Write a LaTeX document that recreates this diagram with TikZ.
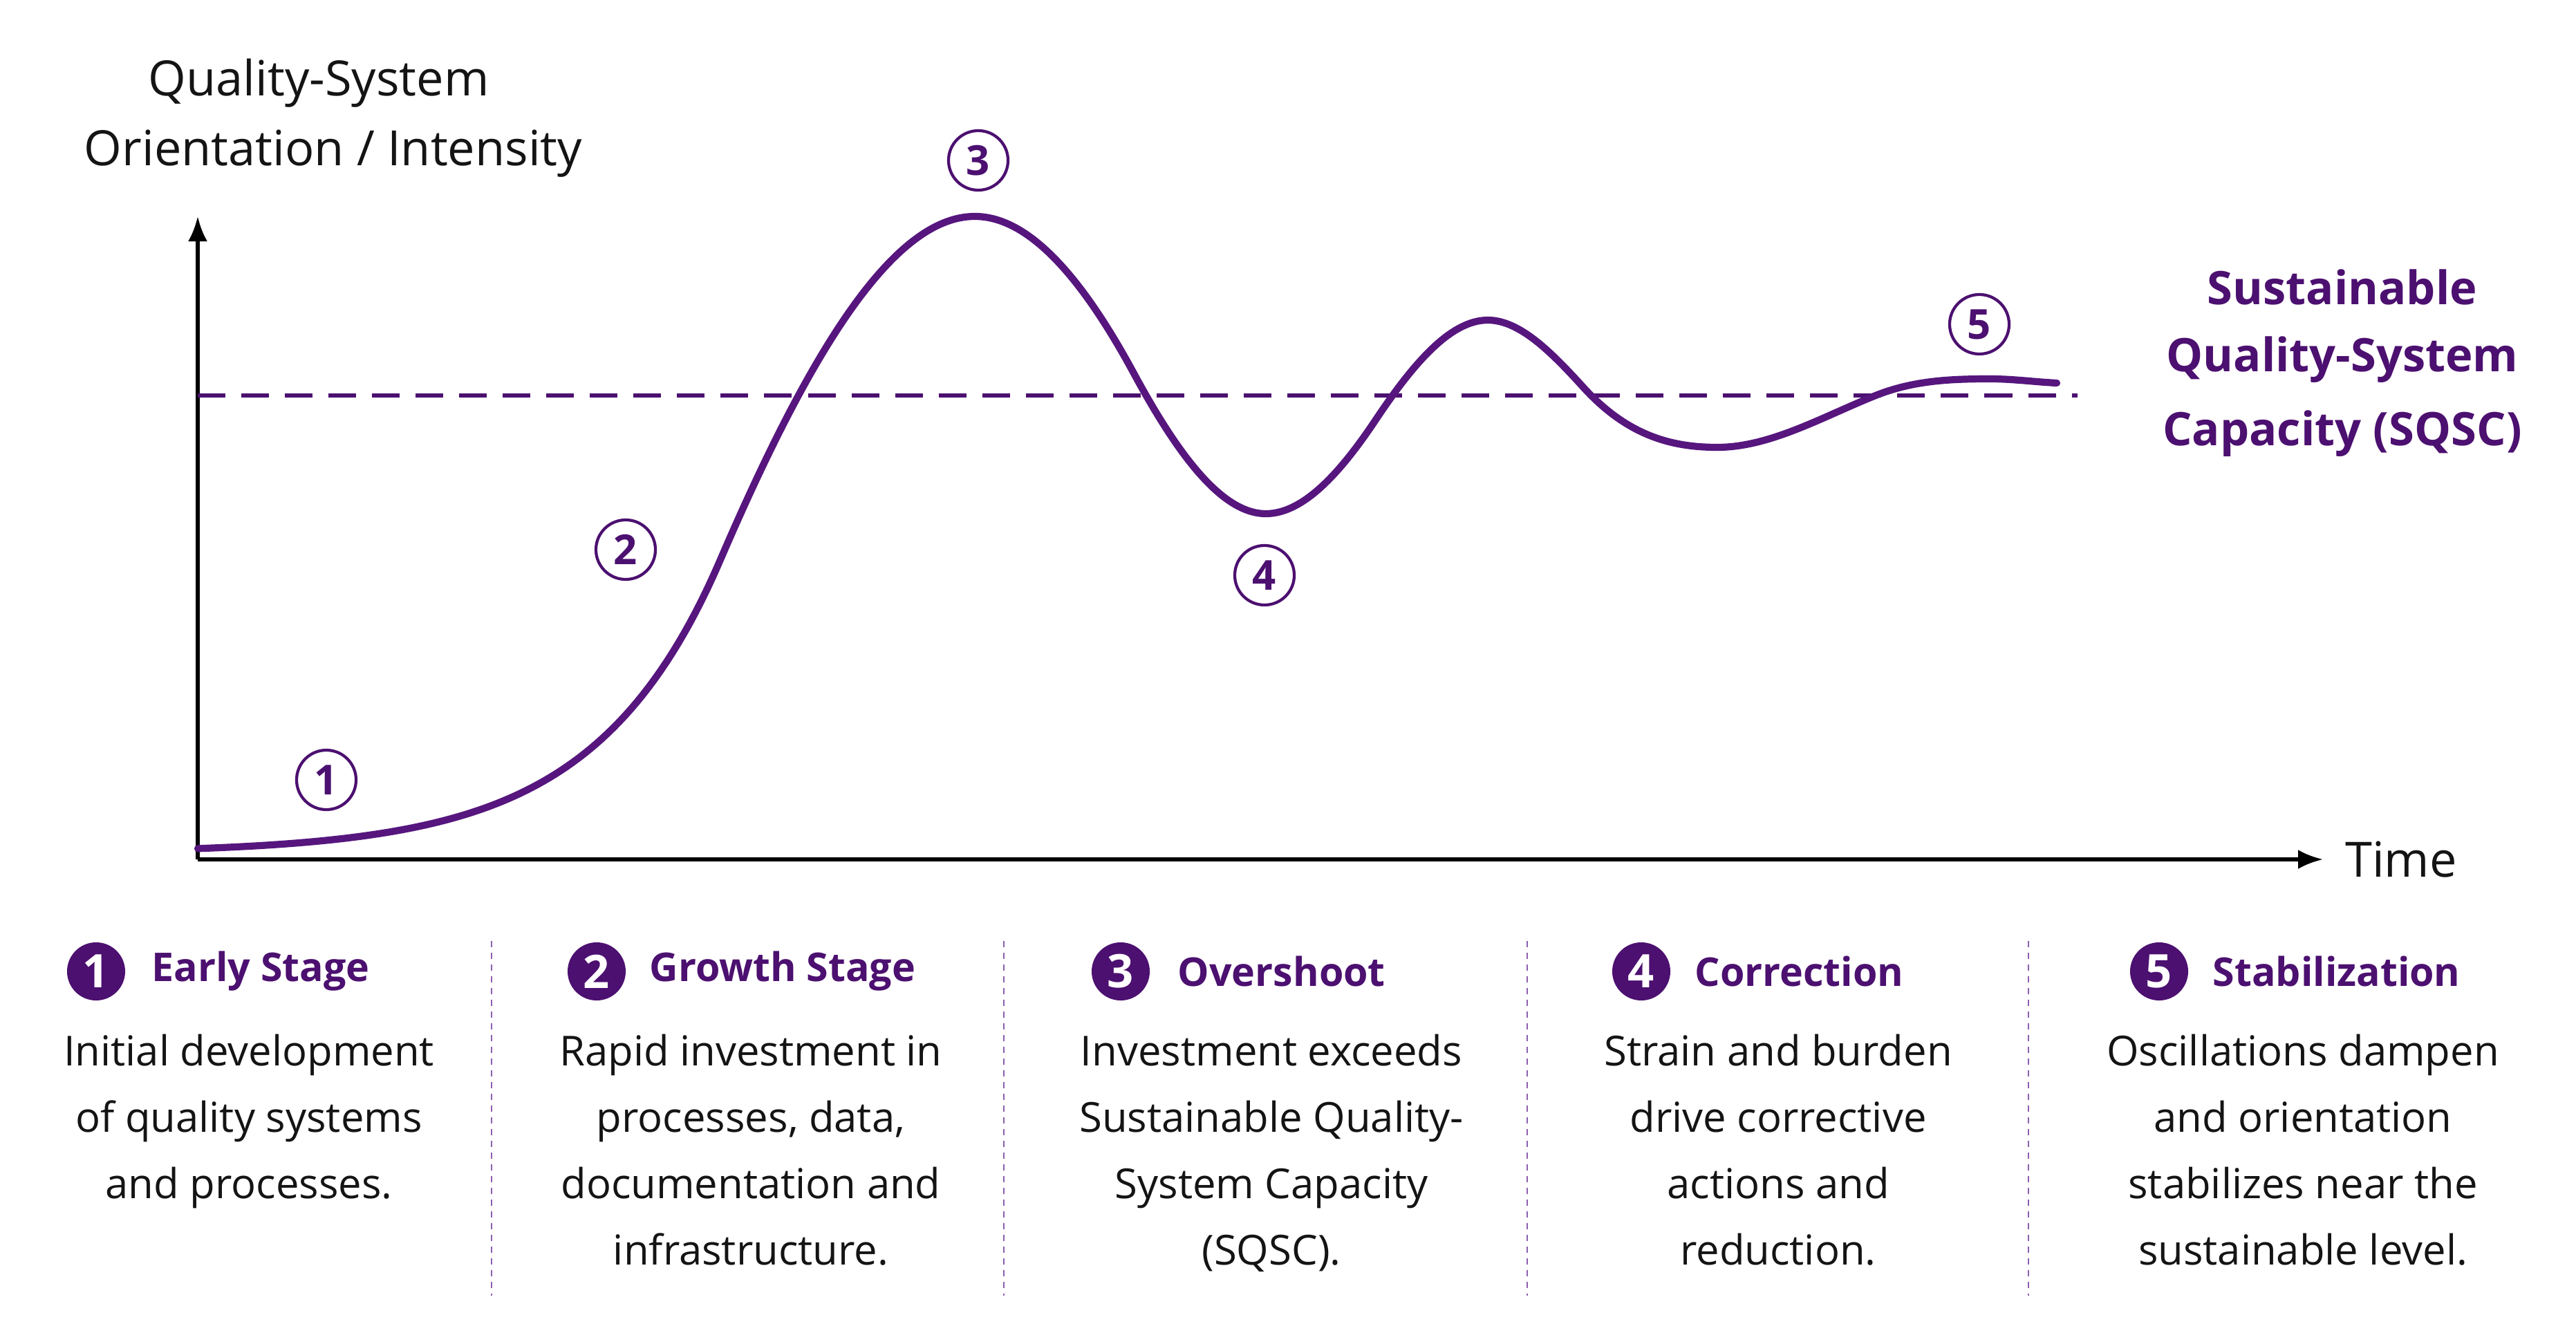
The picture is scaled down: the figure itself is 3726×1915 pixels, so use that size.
\documentclass[tikz,border=0pt]{standalone}
\usepackage{fontspec}
\setmainfont{Open Sans}
\usetikzlibrary{arrows.meta}
\definecolor{qpurple}{RGB}{76,16,112}
\definecolor{qcurve}{RGB}{86,22,126}
\definecolor{sepcol}{RGB}{140,95,175}
\definecolor{txt}{RGB}{20,20,20}
\begin{document}
\begin{tikzpicture}[x=0.01cm,y=-0.01cm,
  axisline/.style={line width=1.5pt, draw=black, -{Latex[length=0.36cm,width=0.28cm]}},
  axislab/.style={font=\fontsize{20}{24}\selectfont, text=txt, inner sep=0},
  sqsclab/.style={font=\fontsize{19}{24}\selectfont\bfseries, text=qpurple, inner sep=0},
  marker/.style={circle, draw=qpurple, line width=1.2pt, minimum size=0.86cm, inner sep=0,
                 text=qpurple, font=\fontsize{17}{18}\selectfont\bfseries},
  badge/.style={circle, fill=qpurple, minimum size=0.84cm, inner sep=0,
                text=white, font=\fontsize{19}{20}\selectfont\bfseries},
  stagetitle/.style={anchor=west, inner sep=0, text=qpurple, font=\fontsize{16.3}{20}\selectfont\bfseries},
  stagebody/.style={anchor=north, inner sep=0, align=center, text=txt, font=\fontsize{17}{27.3}\selectfont},
  sepline/.style={draw=sepcol, line width=0.8pt, dash pattern=on 0.09cm off 0.08cm},
  sqscline/.style={draw=qpurple, line width=1.7pt, dash pattern=on 0.4cm off 0.23cm},
  curveline/.style={draw=qcurve, line width=2.9pt, line cap=round, line join=round}
]
\useasboundingbox[fill=white] (0,0) rectangle (3726,1915);

% axis labels
\node[axislab] (ylab1) at (461,120) {Quality-System};
\node[axislab] (ylab2) at (482,222) {Orientation / Intensity};
\node[axislab] (timelab) at (3473,1243) {Time};

% axes
\coordinate (origin) at (286,1243);
\coordinate (ytip) at (286,313);
\coordinate (xtip) at (3360,1243);
\draw[axisline] (origin) -- (ytip);
\draw[axisline] (origin) -- (xtip);

% sustainable level
\coordinate (sqscstart) at (286,572);
\coordinate (sqscend) at (3005,572);
\draw[sqscline] (sqscstart) -- (sqscend);
\node[sqsclab] (sq1) at (3388,415) {Sustainable};
\node[sqsclab] (sq2) at (3388,520) {Quality-System};
\node[sqsclab] (sq3) at (3388,627) {Capacity (SQSC)};

% curve
\draw[curveline] plot[domain=286:1040, samples=90] (\x,{1234-40*exp(0.0055*(\x-612))})
  .. controls (1163.3,527) and (1286.7,313) .. (1410,313)
  .. controls (1486.7,313) and (1563.3,398.2) .. (1640,540)
  .. controls (1703.7,657.8) and (1767.3,743) .. (1831,743)
  .. controls (1884,743) and (1937,686.5) .. (1990,607)
  .. controls (2044,526) and (2098,463) .. (2152,463)
  .. controls (2198,463) and (2244,509.4) .. (2290,560)
  .. controls (2354.7,631.2) and (2419.3,647) .. (2484,647)
  .. controls (2560.3,647) and (2636.7,602.5) .. (2713,572)
  .. controls (2768.3,549.9) and (2823.7,548) .. (2879,548)
  .. controls (2911,548) and (2943,552.4) .. (2975,554);

% markers
\node[marker] (m1) at (472,1128) {1};
\node[marker] (m2) at (905,795) {2};
\node[marker] (m3) at (1415,232) {3};
\node[marker] (m4) at (1829,832) {4};
\node[marker] (m5) at (2863,469) {5};

% separators
\foreach \sx [count=\i] in {711,1452,2209,2934}{
  \coordinate (septop\i) at (\sx,1361);
  \coordinate (sepbot\i) at (\sx,1874);
  \draw[sepline] (septop\i) -- (sepbot\i);
}

% stage headers
\node[badge] (b1) at (139,1405) {1};
\node[stagetitle] (t1) at (219,1405) {Early Stage};
\node[badge] (b2) at (863,1405) {2};
\node[stagetitle] (t2) at (939,1405) {Growth Stage};
\node[badge] (b3) at (1621,1405) {3};
\node[stagetitle] (t3) at (1703,1405) {Overshoot};
\node[badge] (b4) at (2374,1405) {4};
\node[stagetitle] (t4) at (2451,1405) {Correction};
\node[badge] (b5) at (3123,1405) {5};
\node[stagetitle] (t5) at (3200,1405) {Stabilization};

% stage bodies
\node[stagebody] (d1) at (360,1495) {Initial development\\of quality systems\\and processes.};
\node[stagebody] (d2) at (1086,1495) {Rapid investment in\\processes, data,\\documentation and\\infrastructure.};
\node[stagebody] (d3) at (1839,1495) {Investment exceeds\\Sustainable Quality-\\System Capacity\\(SQSC).};
\node[stagebody] (d4) at (2572,1495) {Strain and burden\\drive corrective\\actions and\\reduction.};
\node[stagebody] (d5) at (3331,1495) {Oscillations dampen\\and orientation\\stabilizes near the\\sustainable level.};
\end{tikzpicture}
\end{document}
